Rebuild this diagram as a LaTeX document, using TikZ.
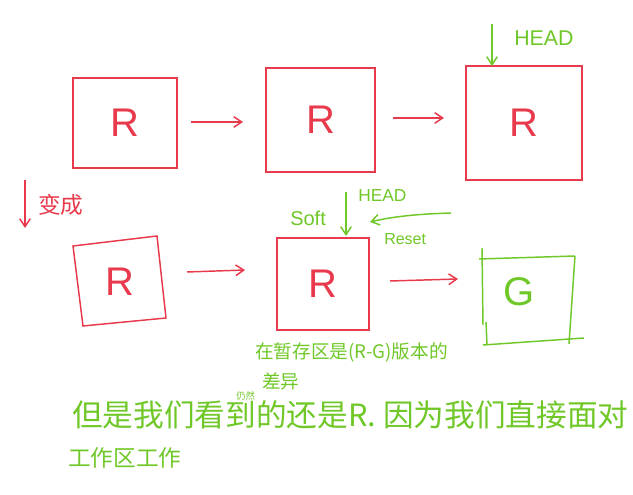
\documentclass[tikz,border=0pt]{standalone}
\usepackage{fontspec}
\setmainfont{Liberation Sans}
\newfontfamily\cjk{Noto Sans CJK SC}
\usetikzlibrary{arrows.meta}
\definecolor{hred}{RGB}{232,58,76}
\definecolor{hgreen}{RGB}{112,200,40}
\tikzset{
  rbox/.style={draw=hred, line width=1.1pt},
  gbox/.style={draw=hgreen, line width=1.1pt},
  rarr/.style={draw=hred, line width=1.1pt, -{Straight Barb[length=6pt,width=8pt]}},
  garr/.style={draw=hgreen, line width=1.1pt, -{Straight Barb[length=6pt,width=8pt]}},
  rlet/.style={text=hred, font=\fontsize{30}{30}\selectfont},
  glet/.style={text=hgreen, font=\fontsize{30}{30}\selectfont},
  gtxt/.style={text=hgreen, inner sep=0pt},
}
\begin{document}
\begin{tikzpicture}[x=0.75pt,y=-0.75pt]
\useasboundingbox (0,0) rectangle (633,495);
\fill[white] (0,0) rectangle (633,495);
% row 1
\node[rbox, minimum width=78pt, minimum height=67.5pt] (b1) at (125,123) {};
\node[rlet] at (b1.center) {R};
\node[rbox, minimum width=82pt, minimum height=78pt] (b2) at (320.5,120) {};
\node[rlet] at (b2.center) {R};
\node[rbox, minimum width=87pt, minimum height=85.5pt] (b3) at (524,123) {};
\node[rlet] at (b3.center) {R};
\coordinate (a1s) at (191,122); \coordinate (a1e) at (243,122);
\draw[rarr] (a1s) -- (a1e);
\coordinate (a2s) at (393,118); \coordinate (a2e) at (444,118);
\draw[rarr] (a2s) -- (a2e);
\coordinate (h1s) at (492,24); \coordinate (h1e) at (492,66);
\draw[garr] (h1s) -- (h1e);
\node[gtxt, anchor=west, font=\fontsize{16}{16}\selectfont] (h1) at (514,38) {HEAD};
% 变成
\coordinate (c1s) at (25,180); \coordinate (c1e) at (25,228);
\draw[rarr] (c1s) -- (c1e);
\node[text=hred, anchor=west, inner sep=0pt, font=\cjk\fontsize{17}{17}\selectfont] (bc) at (38,205) {变成};
% row 2
\draw[rbox] (73,246) -- (157,236) -- (166,318) -- (83,326) -- cycle;
\node[rlet] (r4) at (120,282) {R};
\coordinate (a3s) at (187,272); \coordinate (a3e) at (245,270);
\draw[rarr] (a3s) -- (a3e);
\node[rbox, minimum width=69pt, minimum height=69pt] (b5) at (323,284) {};
\node[rlet] at (b5.center) {R};
\coordinate (a4s) at (390,281); \coordinate (a4e) at (458,279);
\draw[rarr] (a4s) -- (a4e);
% G box
\draw[gbox] (479,259) -- (575,256);
\draw[gbox] (575,256) -- (569,344);
\draw[gbox] (483,345) -- (584,338);
\draw[gbox] (482,248) -- (483,325);
\draw[gbox] (486,322) -- (487,345);
\node[glet] (g) at (519,292) {G};
% soft / HEAD / reset
\node[gtxt, anchor=west, font=\fontsize{15}{15}\selectfont] (soft) at (290,218) {Soft};
\coordinate (h2s) at (346,192); \coordinate (h2e) at (346,236);
\draw[garr] (h2s) -- (h2e);
\node[gtxt, anchor=west, font=\fontsize{13}{13}\selectfont] (h2) at (358,196) {HEAD};
\coordinate (rs) at (451,213); \coordinate (re) at (370,222);
\draw[garr] (rs) .. controls (420,214) and (395,216) .. (re);
\node[gtxt, anchor=west, font=\fontsize{12}{12}\selectfont] (rst) at (384,239) {Reset};
% note under box
\node[gtxt, anchor=west, font=\cjk\fontsize{14}{14}\selectfont] (n1) at (255,352) {在暂存区是(R-G)版本的};
\node[gtxt, anchor=west, font=\cjk\fontsize{14}{14}\selectfont] (n2) at (262,381) {差异};
% bottom text
\node[gtxt, anchor=west, font=\cjk\fontsize{7}{7}\selectfont] (sm) at (236,396) {仍然};
\node[gtxt, anchor=west, font=\cjk\fontsize{23}{23}\selectfont] (l1) at (72,415) {但是我们看到的还是R. 因为我们直接面对};
\node[gtxt, anchor=west, font=\cjk\fontsize{17}{17}\selectfont] (l2) at (68,458) {工作区工作};
\end{tikzpicture}
\end{document}
